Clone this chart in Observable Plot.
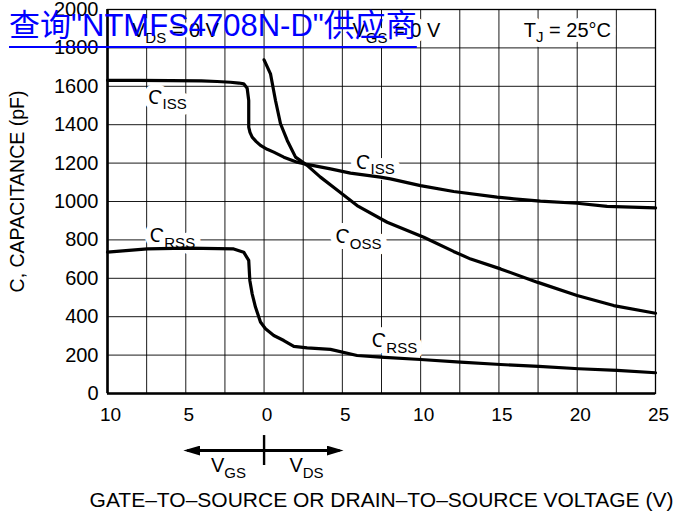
<!DOCTYPE html>
<html><head><meta charset="utf-8">
<script src="https://cdn.jsdelivr.net/npm/d3@7"></script>
<script src="https://cdn.jsdelivr.net/npm/@observablehq/plot@0.6"></script>
<style>
body{margin:0;background:#fff;}
#wrap{position:relative;width:677px;height:517px;overflow:hidden;}
#link{position:absolute;left:9px;top:9px;font-family:"Liberation Sans","Noto Sans CJK SC",sans-serif;font-size:31px;line-height:34px;color:#0000ff;text-decoration:underline;text-decoration-thickness:2px;text-underline-offset:10px;white-space:nowrap;}
</style></head><body>
<div id="wrap"><div id="chart"></div><div id="link">查询"NTMFS4708N-D"供应商</div></div>
<script>
// Ciss
const vCiss = [-10, -8, -6, -4, -3, -2.15, -1.6, -1.3, -1.08, -0.98, -0.98, -0.9, -0.76, -0.5, -0.23, 0.2, 0.62, 1.26, 2.11, 2.75, 4.24, 5.52, 7.43, 8.07, 9.99, 12.11, 14.88, 15.95, 17.65, 19.99, 21.91, 25];
const ciss  = [1631, 1631, 1630, 1628, 1625, 1621, 1617, 1613, 1590, 1526, 1387, 1360, 1335, 1312, 1292, 1272, 1257, 1231, 1205, 1193, 1170, 1148, 1127, 1118, 1083, 1052, 1023, 1014, 1002, 991, 975, 967];
// Coss
const vCoss = [0, 0.41, 0.73, 1.05, 1.48, 2.01, 2.75, 3.6, 4.5, 5.94, 7.86, 10.2, 12.1, 13.2, 15.1, 17.44, 19.99, 22.33, 25];
const coss  = [1738, 1665, 1526, 1405, 1318, 1231, 1188, 1127, 1070, 979, 892, 814, 740, 700, 649, 580, 510, 458, 418];
// Crss
const vCrss = [-10, -7.46, -4.91, -1.94, -1.3, -0.98, -0.91, -0.76, -0.55, -0.23, 0.09, 0.62, 1.26, 1.9, 2.75, 4.24, 5.94, 7.43, 9.99, 12.54, 15.1, 17.54, 20.1, 22.55, 25];
const crss  = [736, 753, 757, 753, 736, 693, 589, 519, 450, 372, 337, 302, 276, 245, 238, 230, 198, 189, 177, 163, 151, 141, 129, 120, 108];

const xTicks = [-10, -5, 0, 5, 10, 15, 20, 25];
const yTicks = [0, 200, 400, 600, 800, 1000, 1200, 1400, 1600, 1800, 2000];
const curveLabels = ["C_ISS", "C_RSS", "C_ISS", "C_OSS", "C_RSS"];
const curveLabelX = [-6.17, -5.85, 7.11, 6.03, 8.33];
const curveLabelY = [1542, 820, 1205, 815, 276];
const condLabels = ["V_DS = 0 V", "V_GS = 0 V", "T_J = 25°C"];
const condX = [-5.66, 8.45, 19.37];
const condY = [1888, 1888, 1892];
const dirLabels = ["V_GS", "V_DS"];
const dirX = [-2.27, 2.71];
const yTitle = "C, CAPACITANCE (pF)";
const xTitle = "GATE–TO–SOURCE OR DRAIN–TO–SOURCE VOLTAGE (V)";

const series = (vs, cs, name) => vs.map((v, i) => ({v, c: cs[i], name}));
const rows = [...series(vCiss, ciss, "Ciss"), ...series(vCoss, coss, "Coss"), ...series(vCrss, crss, "Crss")];
const lab = (t, xs, ys) => t.map((s, i) => ({s, x: xs[i], y: ys[i]}));

const chart = Plot.plot({
  width: 677, height: 517,
  marginLeft: 107, marginRight: 22, marginTop: 9, marginBottom: 124,
  style: {fontFamily: "'Liberation Sans', Arial, Helvetica, sans-serif", background: "#fff", color: "#000"},
  x: {domain: [-10, 25]},
  y: {domain: [0, 2000]},
  marks: [
    Plot.gridX(d3.range(-10, 25.01, 2.5), {stroke: "#000", strokeOpacity: 0.9, strokeWidth: 1}),
    Plot.gridY(yTicks, {stroke: "#000", strokeOpacity: 0.9, strokeWidth: 1}),
    Plot.frame({stroke: "#000", strokeWidth: 1.3}),
    Plot.ruleX([-10], {stroke: "#000", strokeWidth: 2.6}),
    Plot.ruleY([0], {stroke: "#000", strokeWidth: 2.6}),
    Plot.axisX(xTicks, {tickSize: 0, tickPadding: 14, tickFormat: d => String(Math.abs(d)), fontSize: 19, dx: 3}),
    Plot.axisY(yTicks, {tickSize: 0, tickPadding: 9, tickFormat: d => String(d), fontSize: 20}),
    Plot.text([yTitle], {frameAnchor: "left", textAnchor: "middle", rotate: -90, dx: -90, dy: -10, fontSize: 19.5}),
    Plot.text([xTitle], {frameAnchor: "bottom", textAnchor: "middle", lineAnchor: "middle", dy: 107, fontSize: 21}),
    Plot.text(lab(curveLabels, curveLabelX, curveLabelY), {x: "x", y: "y", text: "s", fontSize: 20, fill: "#000", stroke: "#fff", strokeWidth: 12}),
    Plot.text(lab(condLabels, condX, condY), {x: "x", y: "y", text: "s", fontSize: 20, fill: "#000", stroke: "#fff", strokeWidth: 10}),
    Plot.line(rows, {x: "v", y: "c", z: "name", stroke: "#000", strokeWidth: 3.2, strokeLinejoin: "round", strokeLinecap: "round"}),
    Plot.link([0], {x1: 0, x2: -4.9, y1: -297, y2: -297, stroke: "#000", strokeWidth: 3}),
    Plot.link([0], {x1: 0, x2: 4.82, y1: -297, y2: -297, stroke: "#000", strokeWidth: 3}),
    Plot.ruleX([0], {y1: -219, y2: -375, stroke: "#000", strokeWidth: 2.4}),
    Plot.text(lab(dirLabels, dirX, [-375, -375]), {x: "x", y: "y", text: "s", fontSize: 20, fill: "#000"})
  ]
});
document.getElementById("chart").appendChild(chart);

const svg = d3.select(chart);
svg.selectAll("text").each(function () {
  if (this.children.length) return;
  const t = d3.select(this);
  const s = t.text();
  const m = s.match(/^([^_]*)_(\S+)(.*)$/);
  if (!m) return;
  const fs = parseFloat(getComputedStyle(this).fontSize) || 20;
  const sub = fs * 0.75, shift = fs * 0.28;
  t.text(null);
  t.append("tspan").text(m[1]);
  t.append("tspan").attr("font-size", sub + "px").attr("dy", shift).text(m[2]);
  if (m[3]) t.append("tspan").attr("dy", -shift).text(m[3]);
});
const defs = svg.append("defs");
defs.append("marker").attr("id", "tri").attr("viewBox", "0 0 17 10").attr("refX", 13).attr("refY", 5)
  .attr("markerWidth", 17).attr("markerHeight", 10).attr("markerUnits", "userSpaceOnUse").attr("orient", "auto")
  .append("path").attr("d", "M0,0L17,5L0,10Z").attr("fill", "#000");
svg.selectAll('g[aria-label="link"] path').attr("marker-end", "url(#tri)");
</script>
</body></html>
